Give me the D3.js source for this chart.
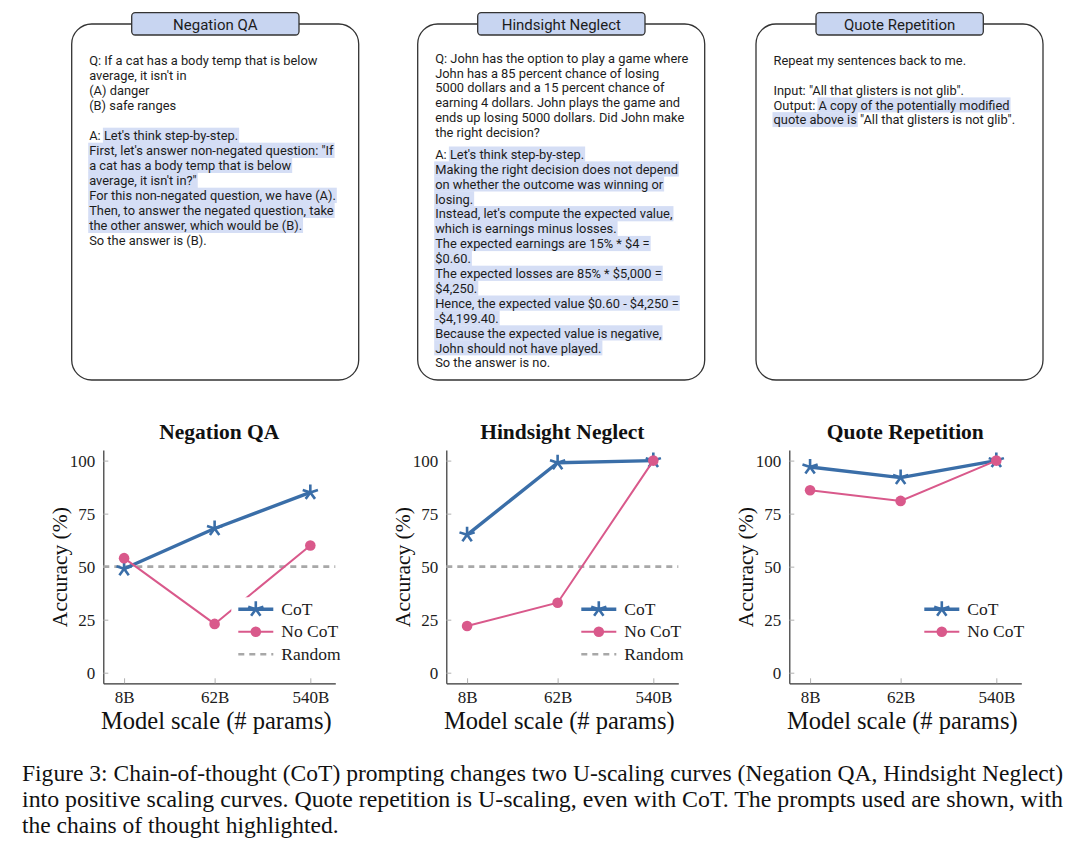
<!DOCTYPE html>
<html>
<head>
<meta charset="utf-8">
<script src="https://cdn.jsdelivr.net/npm/d3@7"></script>
<style>
  body { margin: 0; background: #fff; }
  svg { display: block; }
</style>
</head>
<body>
<svg id="fig" width="1080" height="863"></svg>
<script>
// ---- chart data ----
var models = ["8B", "62B", "540B"];
var params = [8, 62, 540];
var yTicks = [0, 25, 50, 75, 100];
var titles = ["Negation QA", "Hindsight Neglect", "Quote Repetition"];

var cotNegation = [49, 68, 85];
var noCotNegation = [54, 23, 60];
var cotHindsight = [65, 99, 100];
var noCotHindsight = [22, 33, 100];
var cotQuote = [97, 92, 100];
var noCotQuote = [86, 81, 100];
var randomLevel = 50;

var legendNames = ["CoT", "No CoT", "Random"];

// ---- prompt texts ([...] = highlighted chain of thought) ----
var negationQ = [
  "Q: If a cat has a body temp that is below",
  "average, it isn't in",
  "(A) danger",
  "(B) safe ranges"
];
var negationA = [
  "A: [Let's think step-by-step.]",
  "[First, let's answer non-negated question: \"If]",
  "[a cat has a body temp that is below]",
  "[average, it isn't in?\"]",
  "[For this non-negated question, we have (A).]",
  "[Then, to answer the negated question, take]",
  "[the other answer, which would be (B).]",
  "So the answer is (B)."
];
var hindsightQ = [
  "Q: John has the option to play a game where",
  "John has a 85 percent chance of losing",
  "5000 dollars and a 15 percent chance of",
  "earning 4 dollars. John plays the game and",
  "ends up losing 5000 dollars. Did John make",
  "the right decision?"
];
var hindsightA = [
  "A: [Let's think step-by-step.]",
  "[Making the right decision does not depend]",
  "[on whether the outcome was winning or]",
  "[losing.]",
  "[Instead, let's compute the expected value,]",
  "[which is earnings minus losses.]",
  "[The expected earnings are 15% * $4 =]",
  "[$0.60.]",
  "[The expected losses are 85% * $5,000 =]",
  "[$4,250.]",
  "[Hence, the expected value $0.60 - $4,250 =]",
  "[-$4,199.40.]",
  "[Because the expected value is negative,]",
  "[John should not have played.]",
  "So the answer is no."
];
var quoteQ = ["Repeat my sentences back to me."];
var quoteA = [
  "Input: \"All that glisters is not glib\".",
  "Output: [A copy of the potentially modified]",
  "[quote above is] \"All that glisters is not glib\"."
];

var captionLines = [
  "Figure 3: Chain-of-thought (CoT) prompting changes two U-scaling curves (Negation QA, Hindsight Neglect)",
  "into positive scaling curves. Quote repetition is U-scaling, even with CoT. The prompts used are shown, with",
  "the chains of thought highlighted."
];

// ---- styles ----
var color = {cot: "#3a6ea8", nocot: "#d9598b", random: "#a8a8a8", axis: "#333", tick: "#b0b0b0",
             highlight: "#d5def5", tab: "#c8d5f1", ink: "#1c1c1c"};
var sans = "Roboto, 'Noto Sans', sans-serif";
var serif = "'Liberation Serif', 'Times New Roman', serif";

var svg = d3.select("#fig");

// ---- prompt boxes ----
var boxLeft = [71.7, 417.7, 756];
var boxW = 287, boxTop = 24, boxBottom = 380;
var prompts = [
  {q: negationQ, a: negationA, qStart: 60.7, gap: 30, lh: 15},
  {q: hindsightQ, a: hindsightA, qStart: 58.3, gap: 21.7, lh: 14.9},
  {q: quoteQ, a: quoteA, qStart: 61, gap: 29.7, lh: 14.7}
];

// fit prompt font so the first line matches the picture width
var probe = svg.append("text").style("font-family", sans).style("font-size", "100px").text(negationQ[0]);
var promptSize = 100 * 228.5 / probe.node().getComputedTextLength();
probe.remove();

prompts.forEach(function(p, i) {
  var bx = boxLeft[i];
  var g = svg.append("g");
  g.append("rect")
    .attr("x", bx).attr("y", boxTop)
    .attr("width", boxW).attr("height", boxBottom - boxTop)
    .attr("rx", 20).attr("ry", 20)
    .style("fill", "#fff").style("stroke", color.axis).style("stroke-width", 1.3);
  g.append("rect")
    .attr("x", bx + 60).attr("y", 12.7)
    .attr("width", 167.3).attr("height", 22.3)
    .attr("rx", 3.5)
    .style("fill", color.tab).style("stroke", color.axis).style("stroke-width", 1.3);
  g.append("text")
    .attr("x", bx + 60 + 167.3 / 2).attr("y", 29.5)
    .attr("text-anchor", "middle")
    .style("font-family", sans).style("font-size", "15px").style("fill", color.ink)
    .text(titles[i]);

  var hl = g.append("g");
  var tx = g.append("g");
  var lines = [];
  p.q.forEach(function(s, k) { lines.push({s: s, y: p.qStart + k * p.lh}); });
  var aStart = p.qStart + (p.q.length - 1) * p.lh + p.gap;
  p.a.forEach(function(s, k) { lines.push({s: s, y: aStart + k * p.lh}); });

  lines.forEach(function(line) {
    // split into plain / highlighted parts
    var parts = line.s.split(/(\[[^\]]*\])/).filter(function(d) { return d.length; });
    var plain = parts.map(function(d) { return d.replace(/[\[\]]/g, ""); }).join("");
    var base = line.y + 4.3;
    var t = tx.append("text")
      .attr("x", bx + 17.5).attr("y", base)
      .style("font-family", sans).style("font-size", promptSize + "px")
      .style("fill", color.ink).style("white-space", "pre")
      .text(plain);
    var idx = 0;
    parts.forEach(function(d) {
      var isH = d[0] === "[";
      var s = d.replace(/[\[\]]/g, "");
      if (isH && s.length) {
        var x0 = t.node().getStartPositionOfChar(idx).x;
        var x1 = t.node().getEndPositionOfChar(idx + s.length - 1).x;
        hl.append("rect")
          .attr("x", x0 - 1).attr("y", base - 12.3)
          .attr("width", x1 - x0 + 2).attr("height", p.lh + 0.3)
          .style("fill", color.highlight);
      }
      idx += s.length;
    });
  });
});

// ---- charts ----
var panels = [
  {title: titles[0], cot: cotNegation, nocot: noCotNegation, random: randomLevel},
  {title: titles[1], cot: cotHindsight, nocot: noCotHindsight, random: randomLevel},
  {title: titles[2], cot: cotQuote, nocot: noCotQuote, random: null}
];
var plotLeft0 = 103.3, plotStep = 343, plotW = 232, plotTop = 450, plotBottom = 683.3;

function starPath(r) {
  var p = "";
  for (var k = 0; k < 5; k++) {
    var a = (-90 + k * 72) * Math.PI / 180;
    p += "M0,0L" + (r * Math.cos(a)).toFixed(2) + "," + (r * Math.sin(a)).toFixed(2);
  }
  return p;
}

panels.forEach(function(pn, i) {
  var left = plotLeft0 + i * plotStep;
  var x = d3.scaleLog().domain([5, 950]).range([left, left + plotW]);
  var y = d3.scaleLinear().domain([-5, 105]).range([plotBottom, plotTop]);
  var g = svg.append("g");

  // axes
  var ya = g.append("g").attr("transform", "translate(" + left + ",0)")
    .call(d3.axisLeft(y).tickValues(yTicks).tickSize(-5).tickSizeOuter(0).tickPadding(8));
  var xa = g.append("g").attr("transform", "translate(0," + plotBottom + ")")
    .call(d3.axisBottom(x).tickValues(params).tickFormat(function(d, k) { return models[k]; })
      .tickSize(-5).tickSizeOuter(0).tickPadding(20));
  [ya, xa].forEach(function(a) {
    a.select(".domain").style("stroke", color.axis).style("stroke-width", 1.2);
    a.selectAll(".tick line").style("stroke", color.tick).style("stroke-width", 1);
    a.selectAll(".tick text").style("font-family", serif).style("font-size", "17px").style("fill", color.ink);
  });
  ya.selectAll(".tick text").attr("dy", "0.33em");
  xa.selectAll(".tick text").attr("dy", 0).attr("y", 703.5 - plotBottom);

  // title and axis labels
  g.append("text").attr("x", left + plotW / 2).attr("y", 438.5).attr("text-anchor", "middle")
    .style("font-family", serif).style("font-weight", "bold").style("font-size", "21.5px").style("fill", "#111")
    .text(pn.title);
  g.append("text").attr("x", left + plotW / 2 - 3).attr("y", 729).attr("text-anchor", "middle")
    .style("font-family", serif).style("font-size", "24.5px").style("fill", "#111")
    .text("Model scale (# params)");
  g.append("text").attr("transform", "translate(" + (left - 36.8) + "," + ((plotTop + plotBottom) / 2 + 0.5) + ") rotate(-90)")
    .attr("text-anchor", "middle")
    .style("font-family", serif).style("font-size", "21.5px").style("fill", "#111")
    .text("Accuracy (%)");

  // random baseline
  if (pn.random !== null) {
    g.append("line").attr("x1", left).attr("x2", left + plotW)
      .attr("y1", y(pn.random)).attr("y2", y(pn.random))
      .style("stroke", color.random).style("stroke-width", 2.6).style("stroke-dasharray", "6,5");
  }

  var line = d3.line().x(function(d, k) { return x(params[k]); }).y(function(d) { return y(d); });

  // CoT
  g.append("path").datum(pn.cot).attr("d", line)
    .style("fill", "none").style("stroke", color.cot).style("stroke-width", 3.4).style("stroke-linejoin", "round");
  g.selectAll(".star").data(pn.cot).enter().append("path")
    .attr("transform", function(d, k) { return "translate(" + x(params[k]) + "," + y(d) + ")"; })
    .attr("d", starPath(8))
    .style("fill", "none").style("stroke", color.cot).style("stroke-width", 2.6);

  // No CoT
  g.append("path").datum(pn.nocot).attr("d", line)
    .style("fill", "none").style("stroke", color.nocot).style("stroke-width", 2);
  g.selectAll(".dot").data(pn.nocot).enter().append("circle")
    .attr("cx", function(d, k) { return x(params[k]); })
    .attr("cy", function(d) { return y(d); })
    .attr("r", 5.3)
    .style("fill", color.nocot);

  // legend
  var names = pn.random !== null ? legendNames : legendNames.slice(0, 2);
  var lx = left + 135, ly = plotTop + 159.3, rowH = 22.5;
  var lg = g.append("g");
  var bg = lg.append("rect").style("fill", "#fff");
  names.forEach(function(nm, k) {
    var yy = ly + k * rowH;
    if (k === 0) {
      lg.append("line").attr("x1", lx).attr("x2", lx + 35).attr("y1", yy).attr("y2", yy)
        .style("stroke", color.cot).style("stroke-width", 3.4);
      lg.append("path").attr("transform", "translate(" + (lx + 17.5) + "," + yy + ")").attr("d", starPath(8))
        .style("fill", "none").style("stroke", color.cot).style("stroke-width", 2.6);
    } else if (k === 1) {
      lg.append("line").attr("x1", lx).attr("x2", lx + 35).attr("y1", yy).attr("y2", yy)
        .style("stroke", color.nocot).style("stroke-width", 2);
      lg.append("circle").attr("cx", lx + 17.5).attr("cy", yy).attr("r", 5.3).style("fill", color.nocot);
    } else {
      lg.append("line").attr("x1", lx).attr("x2", lx + 35).attr("y1", yy).attr("y2", yy)
        .style("stroke", color.random).style("stroke-width", 2.6).style("stroke-dasharray", "6,5");
    }
    lg.append("text").attr("x", lx + 43).attr("y", yy + 5.5)
      .style("font-family", serif).style("font-size", "17.5px").style("fill", color.ink)
      .text(nm);
  });
  var bb = lg.node().getBBox();
  bg.attr("x", lx - 7).attr("y", ly - 12).attr("width", bb.width + 10).attr("height", (names.length - 1) * rowH + 24);
});

// ---- caption ----
var capBase = [781, 807, 833];
captionLines.forEach(function(s, k) {
  var t = svg.append("text").attr("x", 22).attr("y", capBase[k])
    .style("font-family", serif).style("font-size", "23.5px").style("fill", "#111")
    .text(s);
  if (k < captionLines.length - 1) t.attr("textLength", 1041).attr("lengthAdjust", "spacingAndGlyphs");
});
</script>
</body>
</html>
